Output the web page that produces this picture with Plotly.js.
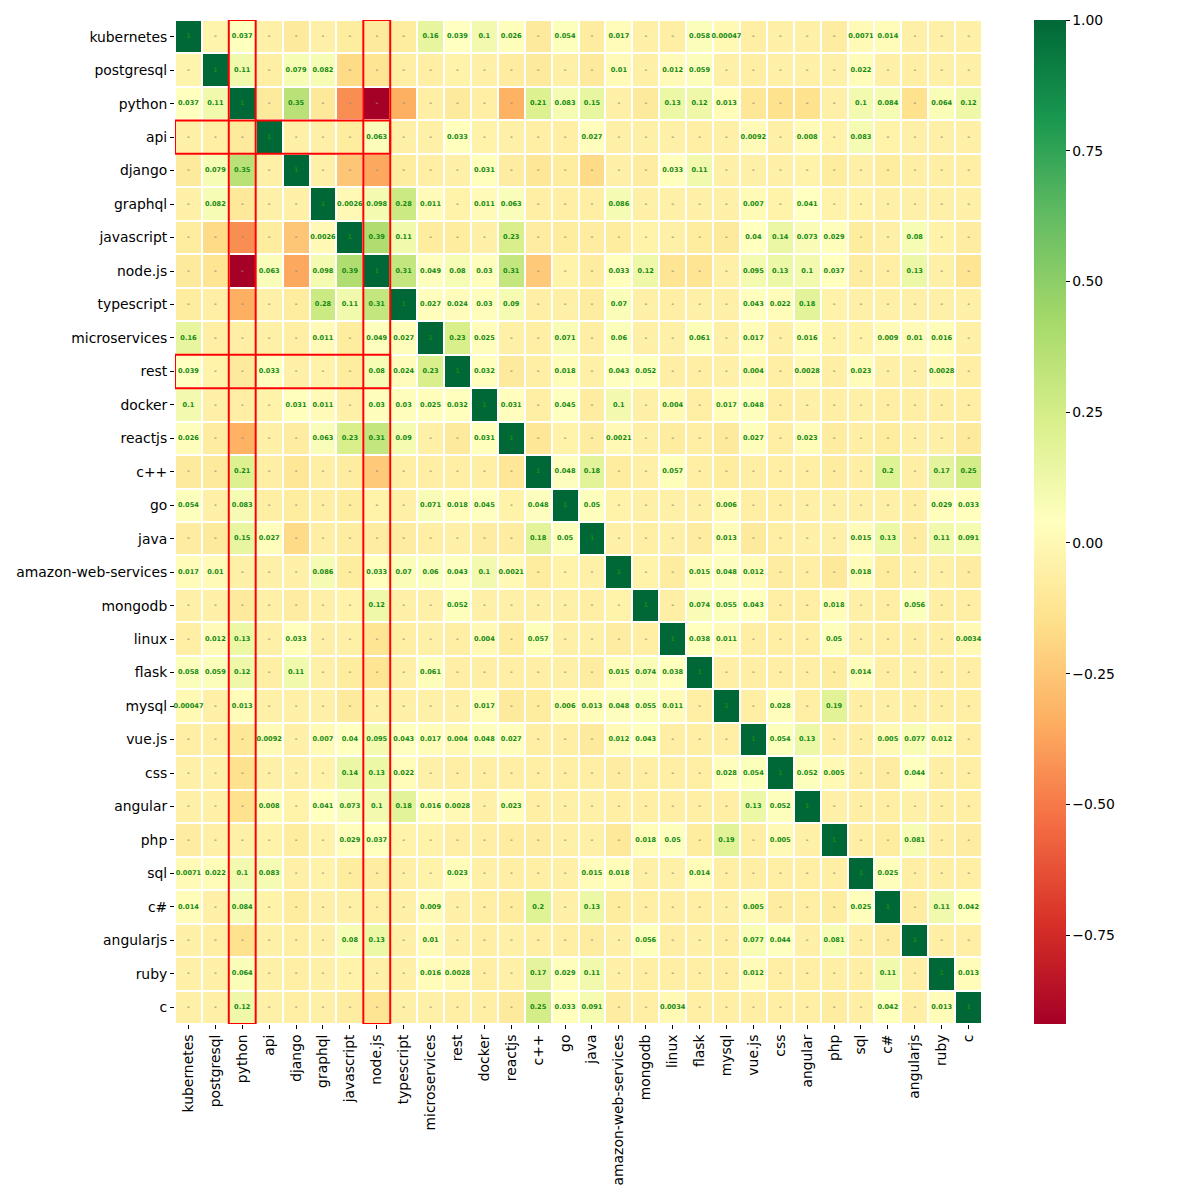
<!DOCTYPE html>
<html>
<head>
<meta charset="utf-8">
<script src="https://cdn.plot.ly/plotly-3.0.1.min.js"></script>
<style>html,body{margin:0;padding:0;background:#fff;}#chart{width:1200px;height:1200px;}</style>
</head>
<body>
<div id="chart"></div>
<script>
// Tags (same order on both axes)
const categories = ["kubernetes","postgresql","python","api","django","graphql","javascript","node.js","typescript","microservices","rest","docker","reactjs","c++","go","java","amazon-web-services","mongodb","linux","flask","mysql","vue.js","css","angular","php","sql","c#","angularjs","ruby","c"];

// Lower triangle of the correlation matrix (row i holds columns 0..i)
const lowerRows = [
 [1],
 [-0.03, 1],
 [0.037, 0.11, 1],
 [-0.05, -0.06, -0.09, 1],
 [-0.09, 0.079, 0.35, -0.05, 1],
 [-0.05, 0.082, -0.1, -0.05, -0.05, 1],
 [-0.08, -0.17, -0.44, -0.08, -0.25, 0.0026, 1],
 [-0.09, -0.12, -0.92, 0.063, -0.36, 0.098, 0.39, 1],
 [-0.08, -0.06, -0.34, -0.05, -0.08, 0.28, 0.11, 0.31, 1],
 [0.16, -0.06, -0.06, -0.05, -0.06, 0.011, -0.08, 0.049, 0.027, 1],
 [0.039, -0.04, -0.09, 0.033, -0.05, -0.04, -0.08, 0.08, 0.024, 0.23, 1],
 [0.1, -0.05, -0.06, -0.04, 0.031, 0.011, -0.05, 0.03, 0.03, 0.025, 0.032, 1],
 [0.026, -0.07, -0.33, -0.05, -0.07, 0.063, 0.23, 0.31, 0.09, -0.05, -0.09, 0.031, 1],
 [-0.09, -0.09, 0.21, -0.06, -0.11, -0.06, -0.07, -0.24, -0.06, -0.06, -0.06, -0.06, -0.11, 1],
 [0.054, -0.05, 0.083, -0.06, -0.08, -0.06, -0.08, -0.04, -0.05, 0.071, 0.018, 0.045, -0.04, 0.048, 1],
 [-0.07, -0.09, 0.15, 0.027, -0.17, -0.06, -0.07, -0.07, -0.07, -0.06, -0.05, -0.07, -0.07, 0.18, 0.05, 1],
 [0.017, 0.01, -0.05, -0.05, -0.05, 0.086, -0.08, 0.033, 0.07, 0.06, 0.043, 0.1, 0.0021, -0.08, -0.04, -0.05, 1],
 [-0.05, -0.05, -0.09, -0.05, -0.07, -0.05, -0.04, 0.12, -0.05, -0.05, 0.052, -0.05, -0.05, -0.05, -0.05, -0.06, -0.04, 1],
 [-0.06, 0.012, 0.13, -0.05, 0.033, -0.05, -0.05, -0.12, -0.06, -0.05, -0.06, 0.004, -0.08, 0.057, -0.05, -0.05, -0.07, -0.06, 1],
 [0.058, 0.059, 0.12, -0.06, 0.11, -0.05, -0.08, -0.12, -0.05, 0.061, -0.06, -0.06, -0.06, -0.06, -0.05, -0.07, 0.015, 0.074, 0.038, 1],
 [0.00047, -0.05, 0.013, -0.05, -0.05, -0.05, -0.09, -0.05, -0.05, -0.05, -0.05, 0.017, -0.09, -0.08, 0.006, 0.013, 0.048, 0.055, 0.011, -0.06, 1],
 [-0.06, -0.06, -0.11, 0.0092, -0.05, 0.007, 0.04, 0.095, 0.043, 0.017, 0.004, 0.048, 0.027, -0.06, -0.06, -0.09, 0.012, 0.043, -0.06, -0.06, -0.06, 1],
 [-0.05, -0.05, -0.14, -0.05, -0.05, -0.04, 0.14, 0.13, 0.022, -0.05, -0.06, -0.06, -0.06, -0.06, -0.06, -0.06, -0.07, -0.06, -0.06, -0.06, 0.028, 0.054, 1],
 [-0.05, -0.05, -0.14, 0.008, -0.04, 0.041, 0.073, 0.1, 0.18, 0.016, 0.0028, -0.05, 0.023, -0.06, -0.05, -0.05, -0.06, -0.06, -0.06, -0.06, -0.06, 0.13, 0.052, 1],
 [-0.07, -0.05, -0.05, -0.04, -0.08, -0.04, 0.029, 0.037, -0.04, -0.04, -0.06, -0.06, -0.07, -0.07, -0.05, -0.05, -0.1, 0.018, 0.05, -0.08, 0.19, -0.06, 0.005, -0.05, 1],
 [0.0071, 0.022, 0.1, 0.083, -0.05, -0.04, -0.08, -0.07, -0.05, -0.04, 0.023, -0.05, -0.06, -0.06, -0.05, 0.015, 0.018, -0.05, -0.05, 0.014, -0.06, -0.06, -0.06, -0.06, -0.06, 1],
 [0.014, -0.05, 0.084, -0.04, -0.08, -0.05, -0.05, -0.06, -0.05, 0.009, -0.05, -0.06, -0.08, 0.2, -0.05, 0.13, -0.08, -0.06, -0.06, -0.06, -0.05, 0.005, -0.07, -0.06, -0.08, 0.025, 1],
 [-0.05, -0.06, -0.14, -0.05, -0.06, -0.05, 0.08, 0.13, -0.05, 0.01, -0.05, -0.06, -0.05, -0.06, -0.06, -0.07, -0.05, 0.056, -0.06, -0.05, -0.06, 0.077, 0.044, -0.05, 0.081, -0.06, -0.07, 1],
 [-0.05, -0.05, 0.064, -0.05, -0.06, -0.05, -0.04, -0.05, -0.05, 0.016, 0.0028, -0.06, -0.05, 0.17, 0.029, 0.11, -0.05, -0.06, -0.06, -0.06, -0.06, 0.012, -0.06, -0.06, -0.06, -0.06, 0.11, -0.06, 1],
 [-0.05, -0.05, 0.12, -0.05, -0.06, -0.05, -0.07, -0.12, -0.05, -0.05, -0.06, -0.06, -0.09, 0.25, 0.033, 0.091, -0.07, -0.06, 0.0034, -0.06, -0.06, -0.06, -0.06, -0.06, -0.07, -0.06, 0.042, -0.06, 0.013, 1]
];

// Highlighted columns and rows (red boxes)
const highlightColumns = ["python", "node.js"];
const highlightRows = ["api", "rest"];
const highlightRowSpan = ["kubernetes", "node.js"];

const colorbarTicks = [-0.75, -0.5, -0.25, 0, 0.25, 0.5, 0.75, 1];
const colorbarTickText = ["\u22120.75", "\u22120.50", "\u22120.25", "0.00", "0.25", "0.50", "0.75", "1.00"];

// Full symmetric matrix from the lower triangle
const n = categories.length;
const z = [];
for (let i = 0; i < n; i++) {
  const row = [];
  for (let j = 0; j < n; j++) {
    row.push(j <= i ? lowerRows[i][j] : lowerRows[j][i]);
  }
  z.push(row);
}

const RdYlGn = [
  [0.0, '#a50026'], [0.1, '#d73027'], [0.2, '#f46d43'], [0.3, '#fdae61'],
  [0.4, '#fee08b'], [0.5, '#ffffbf'], [0.6, '#d9ef8b'], [0.7, '#a6d96a'],
  [0.8, '#66bd63'], [0.9, '#1a9850'], [1.0, '#006837']
];

const tx = [], ty = [], tt = [], tc = [];
for (let i = 0; i < n; i++) {
  for (let j = 0; j < n; j++) {
    const v = z[i][j];
    tx.push(categories[j]);
    ty.push(categories[i]);
    if (v < 0) { tt.push('-'); tc.push('#8c8c7a'); }
    else { tt.push(String(v)); tc.push('#138a13'); }
  }
}

const heat = {
  type: 'heatmap',
  x: categories, y: categories, z: z,
  colorscale: RdYlGn,
  xgap: 2, ygap: 2,
  hoverinfo: 'skip',
  colorbar: {
    x: 1.0644, xanchor: 'left', xpad: 0,
    y: 0.5, yanchor: 'middle', ypad: 0,
    len: 1, lenmode: 'fraction',
    thickness: 32, thicknessmode: 'pixels',
    outlinewidth: 0,
    tickmode: 'array', tickvals: colorbarTicks, ticktext: colorbarTickText,
    ticks: 'outside', ticklen: 4, tickwidth: 1, tickcolor: '#000',
    tickfont: {family: 'DejaVu Sans', size: 13.9, color: '#000'}
  }
};

const labels = {
  type: 'scatter', mode: 'text',
  x: tx, y: ty, text: tt,
  textposition: 'middle center',
  textfont: {family: 'DejaVu Sans', size: 6.6, weight: 'bold', color: tc},
  hoverinfo: 'skip', showlegend: false, cliponaxis: false
};

const shapes = [];
highlightColumns.forEach(c => {
  const k = categories.indexOf(c);
  shapes.push({type: 'rect', xref: 'x', yref: 'y', x0: k - 0.5, x1: k + 0.5, y0: -0.5, y1: n - 0.5,
    line: {color: 'red', width: 2}, fillcolor: 'rgba(0,0,0,0)', layer: 'above'});
});
highlightRows.forEach(r => {
  const k = categories.indexOf(r);
  const a = categories.indexOf(highlightRowSpan[0]), b = categories.indexOf(highlightRowSpan[1]);
  shapes.push({type: 'rect', xref: 'x', yref: 'y', x0: a - 0.5, x1: b + 0.5, y0: k - 0.5, y1: k + 0.5,
    line: {color: 'red', width: 2}, fillcolor: 'rgba(0,0,0,0)', layer: 'above'});
});

const axisFont = {family: 'DejaVu Sans', size: 13.9, color: '#000'};
const layout = {
  width: 1200, height: 1200,
  margin: {l: 175, r: 218, t: 20, b: 176, pad: 0},
  paper_bgcolor: '#fff', plot_bgcolor: '#fff',
  font: {family: 'DejaVu Sans'},
  showlegend: false,
  xaxis: {
    type: 'category', categoryorder: 'array', categoryarray: categories,
    range: [-0.5, n - 0.5], tickangle: -90,
    ticks: 'outside', ticklen: 4, tickwidth: 1, tickcolor: '#000',
    tickfont: axisFont, showgrid: false, zeroline: false, showline: false
  },
  yaxis: {
    type: 'category', categoryorder: 'array', categoryarray: categories,
    range: [n - 0.5, -0.5],
    ticks: 'outside', ticklen: 4, tickwidth: 1, tickcolor: '#000',
    tickfont: axisFont, showgrid: false, zeroline: false, showline: false
  },
  shapes: shapes
};

Plotly.newPlot('chart', [heat, labels], layout, {displayModeBar: false, staticPlot: true});
</script>
</body>
</html>
